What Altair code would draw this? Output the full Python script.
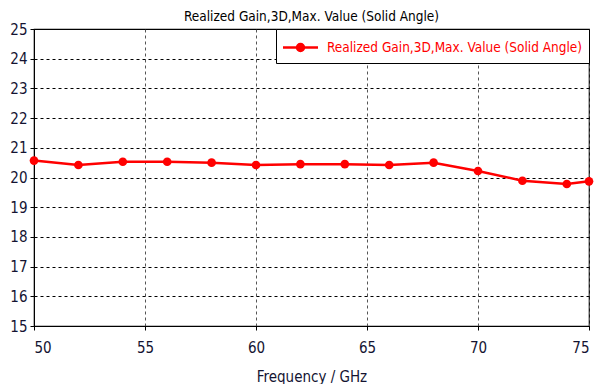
import altair as alt
import pandas as pd

freq = [50, 52, 54, 56, 58, 60, 62, 64, 66, 68, 70, 72, 74, 75]
gain = [20.57, 20.42, 20.53, 20.53, 20.5, 20.42, 20.45, 20.45, 20.42, 20.5, 20.22, 19.89, 19.78, 19.87]
series = "Realized Gain,3D,Max. Value (Solid Angle)"

df = pd.DataFrame({"freq": freq, "gain": gain, "series": [series] * len(freq)})

FONT = "DejaVu Sans Condensed"
LABEL = "#141432"
sym = "M-1.6,0L1.6,0M-0.32,0a0.32,0.32 0 1,0 0.64,0a0.32,0.32 0 1,0 -0.64,0Z"

x = alt.X("freq:Q", title="Frequency / GHz",
          scale=alt.Scale(domain=[50, 75], nice=False, zero=False),
          axis=alt.Axis(values=[50, 55, 60, 65, 70, 75], grid=True, gridDash=[3, 3],
                        gridColor="#555555", tickSize=4, labelPadding=10, titlePadding=14))
y = alt.Y("gain:Q", title=None,
          scale=alt.Scale(domain=[15, 25], nice=False, zero=False),
          axis=alt.Axis(values=list(range(15, 26)), grid=True, gridDash=[3, 3],
                        gridColor="#000000", tickSize=4, labelPadding=3))
color = alt.Color("series:N", scale=alt.Scale(range=["#ff0000"]),
                  legend=alt.Legend(title=None, orient="top-right", offset=0,
                                    symbolType=sym, symbolSize=480, symbolStrokeWidth=2.5,
                                    symbolFillColor="#ff0000", symbolStrokeColor="#ff0000",
                                    symbolOffset=6,
                                    labelColor="#ff0000", labelFontSize=13.5, labelFont=FONT,
                                    fillColor="white", strokeColor="black",
                                    padding=6, labelLimit=400, labelOffset=14))

line = alt.Chart(df).mark_line(strokeWidth=2.5).encode(x=x, y=y, color=color)
pts = alt.Chart(df).mark_circle(size=75, opacity=1).encode(x=x, y=y, color=color)

chart = (line + pts).properties(
    width=555, height=297,
    title=alt.TitleParams(series, fontSize=13.5, fontWeight="normal", font=FONT, offset=-1,
                          color="black"),
    autosize=alt.AutoSizeParams(type="none"),
    padding={"left": 26, "top": 21, "right": 8, "bottom": 58},
).configure_view(stroke="black", strokeWidth=1.2).configure_axis(
    domainColor="black", tickColor="black", labelColor=LABEL, titleColor=LABEL,
    labelFont=FONT, titleFont=FONT, labelFontSize=15, titleFontSize=15,
    titleFontWeight="normal"
)

chart.save("out.html", embed_options={"renderer": "svg", "actions": False})
